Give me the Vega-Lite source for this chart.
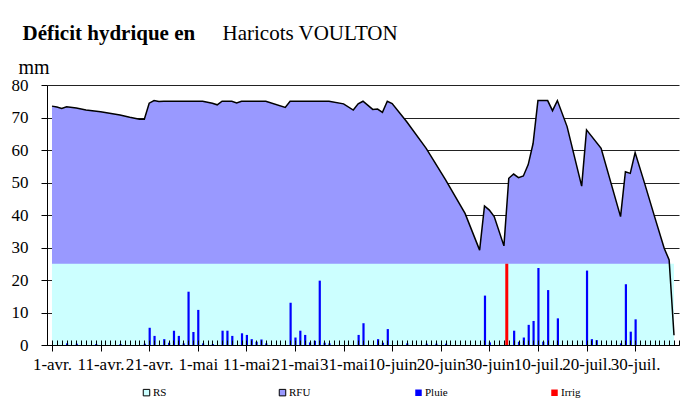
{
  "$schema": "https://vega.github.io/schema/vega-lite/v6.json",
  "width": 632,
  "height": 260,
  "autosize": "none",
  "padding": {"left": 47, "top": 85, "right": 1, "bottom": 61},
  "background": "white",
  "datasets": {
    "reserve": [
      {"date": "2008-04-01", "reserve": 73.5},
      {"date": "2008-04-02", "reserve": 73.2},
      {"date": "2008-04-03", "reserve": 72.8},
      {"date": "2008-04-04", "reserve": 73.3},
      {"date": "2008-04-06", "reserve": 72.9},
      {"date": "2008-04-08", "reserve": 72.3},
      {"date": "2008-04-11", "reserve": 71.8},
      {"date": "2008-04-15", "reserve": 70.8},
      {"date": "2008-04-17", "reserve": 70.1},
      {"date": "2008-04-19", "reserve": 69.5},
      {"date": "2008-04-20", "reserve": 69.5},
      {"date": "2008-04-21", "reserve": 74.4},
      {"date": "2008-04-22", "reserve": 75.2},
      {"date": "2008-04-23", "reserve": 74.9},
      {"date": "2008-04-24", "reserve": 75.0},
      {"date": "2008-05-02", "reserve": 75.0},
      {"date": "2008-05-04", "reserve": 74.4},
      {"date": "2008-05-05", "reserve": 73.9},
      {"date": "2008-05-06", "reserve": 75.0},
      {"date": "2008-05-08", "reserve": 75.0},
      {"date": "2008-05-09", "reserve": 74.5},
      {"date": "2008-05-10", "reserve": 75.0},
      {"date": "2008-05-15", "reserve": 75.0},
      {"date": "2008-05-19", "reserve": 73.1},
      {"date": "2008-05-20", "reserve": 75.0},
      {"date": "2008-05-28", "reserve": 75.0},
      {"date": "2008-05-31", "reserve": 74.2},
      {"date": "2008-06-02", "reserve": 72.3},
      {"date": "2008-06-03", "reserve": 74.2},
      {"date": "2008-06-04", "reserve": 75.0},
      {"date": "2008-06-06", "reserve": 72.5},
      {"date": "2008-06-07", "reserve": 72.6},
      {"date": "2008-06-08", "reserve": 71.6},
      {"date": "2008-06-09", "reserve": 75.0},
      {"date": "2008-06-10", "reserve": 74.3},
      {"date": "2008-06-13", "reserve": 68.7},
      {"date": "2008-06-17", "reserve": 60.5},
      {"date": "2008-06-21", "reserve": 50.8},
      {"date": "2008-06-25", "reserve": 40.5},
      {"date": "2008-06-28", "reserve": 29.2},
      {"date": "2008-06-29", "reserve": 42.8},
      {"date": "2008-06-30", "reserve": 41.5},
      {"date": "2008-07-01", "reserve": 39.5},
      {"date": "2008-07-03", "reserve": 30.5},
      {"date": "2008-07-04", "reserve": 51.3},
      {"date": "2008-07-05", "reserve": 52.6},
      {"date": "2008-07-06", "reserve": 51.5},
      {"date": "2008-07-07", "reserve": 52.0},
      {"date": "2008-07-08", "reserve": 55.5},
      {"date": "2008-07-09", "reserve": 62.0},
      {"date": "2008-07-10", "reserve": 75.2},
      {"date": "2008-07-12", "reserve": 75.2},
      {"date": "2008-07-13", "reserve": 72.1},
      {"date": "2008-07-14", "reserve": 75.2},
      {"date": "2008-07-16", "reserve": 67.2},
      {"date": "2008-07-19", "reserve": 48.9},
      {"date": "2008-07-20", "reserve": 66.2},
      {"date": "2008-07-23", "reserve": 60.5},
      {"date": "2008-07-27", "reserve": 39.5},
      {"date": "2008-07-28", "reserve": 53.3},
      {"date": "2008-07-29", "reserve": 52.8},
      {"date": "2008-07-30", "reserve": 59.2},
      {"date": "2008-08-01", "reserve": 49.5},
      {"date": "2008-08-03", "reserve": 39.5},
      {"date": "2008-08-05", "reserve": 29.7},
      {"date": "2008-08-06", "reserve": 26.2},
      {"date": "2008-08-07", "reserve": 3.0}
    ],
    "pluie": [
      {"date": "2008-04-04", "pluie": 0.5},
      {"date": "2008-04-06", "pluie": 0.4},
      {"date": "2008-04-10", "pluie": 0.3},
      {"date": "2008-04-15", "pluie": 0.3},
      {"date": "2008-04-20", "pluie": 0.4},
      {"date": "2008-04-21", "pluie": 5.3},
      {"date": "2008-04-22", "pluie": 2.8},
      {"date": "2008-04-24", "pluie": 1.8},
      {"date": "2008-04-25", "pluie": 0.7},
      {"date": "2008-04-26", "pluie": 4.4},
      {"date": "2008-04-27", "pluie": 2.8},
      {"date": "2008-04-28", "pluie": 0.5},
      {"date": "2008-04-29", "pluie": 16.4},
      {"date": "2008-04-30", "pluie": 4.0},
      {"date": "2008-05-01", "pluie": 10.8},
      {"date": "2008-05-02", "pluie": 0.5},
      {"date": "2008-05-04", "pluie": 0.3},
      {"date": "2008-05-06", "pluie": 4.4},
      {"date": "2008-05-07", "pluie": 4.4},
      {"date": "2008-05-08", "pluie": 2.8},
      {"date": "2008-05-10", "pluie": 3.6},
      {"date": "2008-05-11", "pluie": 3.1},
      {"date": "2008-05-12", "pluie": 1.8},
      {"date": "2008-05-13", "pluie": 1.0},
      {"date": "2008-05-14", "pluie": 1.7},
      {"date": "2008-05-15", "pluie": 0.5},
      {"date": "2008-05-20", "pluie": 13.0},
      {"date": "2008-05-21", "pluie": 2.3},
      {"date": "2008-05-22", "pluie": 4.4},
      {"date": "2008-05-23", "pluie": 3.1},
      {"date": "2008-05-24", "pluie": 0.8},
      {"date": "2008-05-25", "pluie": 1.3},
      {"date": "2008-05-26", "pluie": 19.8},
      {"date": "2008-05-27", "pluie": 0.7},
      {"date": "2008-05-28", "pluie": 0.5},
      {"date": "2008-06-03", "pluie": 3.1},
      {"date": "2008-06-04", "pluie": 6.7},
      {"date": "2008-06-07", "pluie": 1.8},
      {"date": "2008-06-08", "pluie": 0.7},
      {"date": "2008-06-09", "pluie": 4.9},
      {"date": "2008-06-13", "pluie": 0.5},
      {"date": "2008-06-17", "pluie": 0.4},
      {"date": "2008-06-19", "pluie": 0.4},
      {"date": "2008-06-21", "pluie": 0.4},
      {"date": "2008-06-29", "pluie": 15.2},
      {"date": "2008-06-30", "pluie": 0.8},
      {"date": "2008-07-05", "pluie": 4.4},
      {"date": "2008-07-06", "pluie": 1.0},
      {"date": "2008-07-07", "pluie": 2.3},
      {"date": "2008-07-08", "pluie": 6.2},
      {"date": "2008-07-09", "pluie": 7.4},
      {"date": "2008-07-10", "pluie": 23.7},
      {"date": "2008-07-11", "pluie": 1.0},
      {"date": "2008-07-12", "pluie": 16.9},
      {"date": "2008-07-14", "pluie": 8.2},
      {"date": "2008-07-20", "pluie": 22.9},
      {"date": "2008-07-21", "pluie": 1.8},
      {"date": "2008-07-22", "pluie": 1.5},
      {"date": "2008-07-27", "pluie": 0.5},
      {"date": "2008-07-28", "pluie": 18.7},
      {"date": "2008-07-29", "pluie": 4.1},
      {"date": "2008-07-30", "pluie": 7.9}
    ],
    "irrig": [
      {"date": "2008-07-04", "irrig": 25}
    ]
  },
  "layer": [
    {
      "data": {"name": "reserve"},
      "mark": {"type": "area", "interpolate": "linear"},
      "encoding": {
        "x": {
          "field": "date", "type": "temporal",
          "scale": {"type": "utc", "domain": [{"year": 2008, "month": 4, "date": 1, "utc": true}, {"year": 2008, "month": 8, "date": 7, "utc": true}]},
          "axis": {
            "orient": "bottom",
            "title": null,
            "zindex": 1,
            "grid": false,
            "domain": true,
            "domainColor": "black",
            "ticks": true,
            "tickColor": "black",
            "tickSize": 6,
            "values": [
              {"year": 2008, "month": 4, "date": 1, "utc": true},
              {"year": 2008, "month": 4, "date": 11, "utc": true},
              {"year": 2008, "month": 4, "date": 21, "utc": true},
              {"year": 2008, "month": 5, "date": 1, "utc": true},
              {"year": 2008, "month": 5, "date": 11, "utc": true},
              {"year": 2008, "month": 5, "date": 21, "utc": true},
              {"year": 2008, "month": 5, "date": 31, "utc": true},
              {"year": 2008, "month": 6, "date": 10, "utc": true},
              {"year": 2008, "month": 6, "date": 20, "utc": true},
              {"year": 2008, "month": 6, "date": 30, "utc": true},
              {"year": 2008, "month": 7, "date": 10, "utc": true},
              {"year": 2008, "month": 7, "date": 20, "utc": true},
              {"year": 2008, "month": 7, "date": 30, "utc": true}
            ],
            "labelExpr": "utcdate(datum.value) + '-' + (utcmonth(datum.value) == 3 ? 'avr.' : utcmonth(datum.value) == 4 ? 'mai' : utcmonth(datum.value) == 5 ? 'juin' : 'juil.')",
            "labelFont": "Liberation Serif",
            "labelFontSize": 17,
            "labelColor": "black",
            "labelPadding": 5,
            "labelOverlap": false,
            "labelFlush": false,
            "labelBound": false
          }
        },
        "y": {
          "field": "reserve", "type": "quantitative",
          "scale": {"domain": [0, 80], "nice": false},
          "axis": {
            "orient": "left",
            "zindex": 0,
            "grid": true,
            "gridColor": "#222222",
            "gridWidth": 1,
            "values": [10, 20, 30, 40, 50, 60, 70, 80],
            "labels": false,
            "ticks": false,
            "domain": false,
            "title": "Déficit hydrique en",
            "titleFont": "Liberation Serif",
            "titleFontSize": 21,
            "titleFontWeight": "bold",
            "titleColor": "black",
            "titleAngle": 0,
            "titleAlign": "left",
            "titleBaseline": "alphabetic",
            "titleX": -25,
            "titleY": -46
          }
        },
        "y2": {"datum": 0},
        "color": {
          "datum": "RFU",
          "scale": {"domain": ["RS", "RFU", "Pluie", "Irrig"], "range": ["#CCFFFF", "#9999FF", "#0000FF", "#FF0000"]},
          "legend": {
            "orient": "none",
            "legendX": 94,
            "legendY": 302,
            "direction": "horizontal",
            "title": null,
            "symbolType": "square",
            "symbolSize": 42,
            "symbolOpacity": 1,
            "symbolStrokeWidth": 1,
            "labelFont": "Liberation Serif",
            "labelFontSize": 11,
            "labelColor": "black",
            "labelOffset": 1,
            "columns": 4,
            "gridAlign": "all",
            "columnPadding": 101,
            "encode": {
              "symbols": {"update": {"stroke": {"signal": "datum.value == 'RS' || datum.value == 'RFU' ? 'black' : null"}, "strokeWidth": {"value": 1}}}
            }
          }
        }
      }
    },
    {
      "data": {"name": "reserve"},
      "mark": {"type": "area", "interpolate": "linear"},
      "encoding": {
        "x": {
          "field": "date", "type": "temporal",
          "axis": {
            "orient": "top",
            "domain": false,
            "ticks": false,
            "labels": false,
            "grid": false,
            "title": "Haricots VOULTON",
            "titleFont": "Liberation Serif",
            "titleFontSize": 21,
            "titleFontWeight": "normal",
            "titleColor": "black",
            "titleAngle": 0,
            "titleAlign": "left",
            "titleBaseline": "alphabetic",
            "titleX": 175,
            "titleY": -46
          }
        },
        "y": {"datum": 25, "type": "quantitative", "axis": null},
        "y2": {"datum": 0},
        "color": {"datum": "RS"}
      }
    },
    {
      "mark": {"type": "rule", "color": "black", "strokeWidth": 1},
      "encoding": {"y": {"datum": 25, "type": "quantitative", "axis": null}}
    },
    {
      "data": {"name": "pluie"},
      "mark": {"type": "bar", "width": 2.2, "xOffset": 0.5},
      "encoding": {
        "x": {"field": "date", "type": "temporal", "axis": null},
        "y": {"field": "pluie", "type": "quantitative", "axis": null},
        "color": {"datum": "Pluie"}
      }
    },
    {
      "data": {"name": "irrig"},
      "mark": {"type": "bar", "width": 3, "xOffset": -2},
      "encoding": {
        "x": {"field": "date", "type": "temporal", "axis": null},
        "y": {"field": "irrig", "type": "quantitative", "axis": null},
        "color": {"datum": "Irrig"}
      }
    },
    {
      "data": {"name": "reserve"},
      "mark": {"type": "line", "color": "black", "strokeWidth": 1.5, "interpolate": "linear"},
      "encoding": {
        "x": {
          "field": "date", "type": "temporal",
          "axis": {
            "orient": "bottom",
            "title": null,
            "zindex": 2,
            "grid": false,
            "domain": true,
            "domainColor": "black",
            "labels": false,
            "ticks": true,
            "tickColor": "black",
            "tickWidth": 1,
            "tickSize": -5,
            "tickCount": {"interval": "day", "step": 1}
          }
        },
        "y": {
          "field": "reserve", "type": "quantitative",
          "axis": {
            "orient": "left",
            "zindex": 2,
            "grid": false,
            "values": [0, 10, 20, 30, 40, 50, 60, 70, 80],
            "domain": true,
            "domainColor": "black",
            "ticks": true,
            "tickColor": "black",
            "tickSize": 6,
            "labelFont": "Liberation Serif",
            "labelFontSize": 17,
            "labelColor": "black",
            "labelPadding": 13,
            "labelFlush": false,
            "labelBound": false,
            "labelOverlap": false,
            "title": "mm",
            "titleFont": "Liberation Serif",
            "titleFontSize": 20,
            "titleFontWeight": "normal",
            "titleColor": "black",
            "titleAngle": 0,
            "titleAlign": "left",
            "titleBaseline": "alphabetic",
            "titleX": -29,
            "titleY": -12
          }
        }
      }
    }
  ],
  "resolve": {"axis": {"x": "independent", "y": "independent"}},
  "config": {
    "view": {"stroke": null},
    "font": "Liberation Serif"
  }
}
